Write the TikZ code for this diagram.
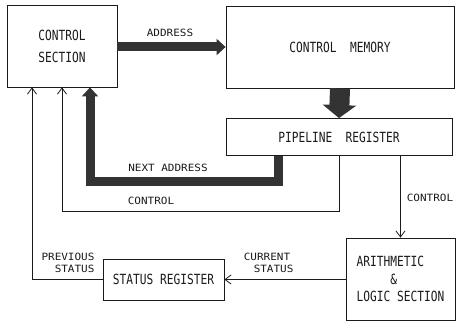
\documentclass[tikz,border=0pt]{standalone}
\usepackage{fontspec}
\newfontfamily\boxfont{DejaVu Sans Mono}[FakeStretch=0.8]
\newfontfamily\lblfont{DejaVu Sans Mono}[FakeStretch=1.1]
\usetikzlibrary{positioning, arrows.meta, calc}
\definecolor{ink}{HTML}{1A1A1A}
\definecolor{bus}{HTML}{333333}

\begin{document}
\begin{tikzpicture}[x=1pt, y=-1pt,
          blk/.style={draw=ink, line width=0.8pt, text=ink, font=\boxfont\fontsize{14}{22}\selectfont, align=center, inner sep=0pt},
          lbl/.style={text=ink, font=\lblfont\fontsize{10}{11.5}\selectfont, inner sep=0pt},
          sig/.style={draw=ink, line width=0.8pt, -{Straight Barb[length=6pt,width=9pt]}},
          buspath/.style={draw=bus, line width=9pt, line join=miter, -{Triangle[length=9pt,width=16pt]}}]
        \useasboundingbox (0,0) rectangle (456,321);
        % boxes
        \node[blk, minimum width=110pt, minimum height=82pt] (cs) at (62,46) {CONTROL\\SECTION};
        \node[blk, minimum width=228pt, minimum height=82pt] (cm) at (340,47) {CONTROL\ \ MEMORY};
        \node[blk, minimum width=226pt, minimum height=37pt] (pr) at (339,137) {PIPELINE\ \ REGISTER};
        \node[blk, minimum width=109pt, minimum height=82pt, align=left, font=\boxfont\fontsize{14}{17.5}\selectfont] (als) at (400.5,279) {ARITHMETIC\\\phantom{ARITH}\&\\LOGIC SECTION};
        \node[blk, minimum width=121pt, minimum height=41pt] (sr) at (163.5,279.5) {STATUS REGISTER};
        % corner points
        \coordinate (na) at (278,182);
        \coordinate (ct) at (339,211);
        \coordinate (ps) at (32,279.5);
        % wide paths
        \draw[buspath] (cs.east |- 0,47) -- (cm.west |- 0,47);
        \draw[buspath, line width=20pt, -{Triangle[length=13pt,width=33pt]}] (cm.south) -- (pr.north);
        \draw[buspath] (pr.south -| na) -- (na) -- (90,182) -- (cs.south -| 90,0);
        % signal lines
        \draw[sig] (pr.south) -- (ct) -- (62,211) -- (cs.south);
        \draw[sig] (pr.south -| als.north) -- (als.north);
        \draw[sig] (als.west |- sr.east) -- (sr.east);
        \draw[sig] (sr.west) -- (ps) -- (cs.south -| ps);
        % labels
        \node[lbl] (laddr) at (170,33) {ADDRESS};
        \node[lbl] (lnext) at (168,168) {NEXT ADDRESS};
        \node[lbl] (lctl) at (151,201) {CONTROL};
        \node[lbl] (lctl2) at (430,198) {CONTROL};
        \node[lbl, align=center] (lcur) at (267,263) {CURRENT\\\ \ STATUS};
        \node[lbl, align=right] (lprev) at (68,263) {PREVIOUS\\STATUS};
      \end{tikzpicture}
\end{document}
